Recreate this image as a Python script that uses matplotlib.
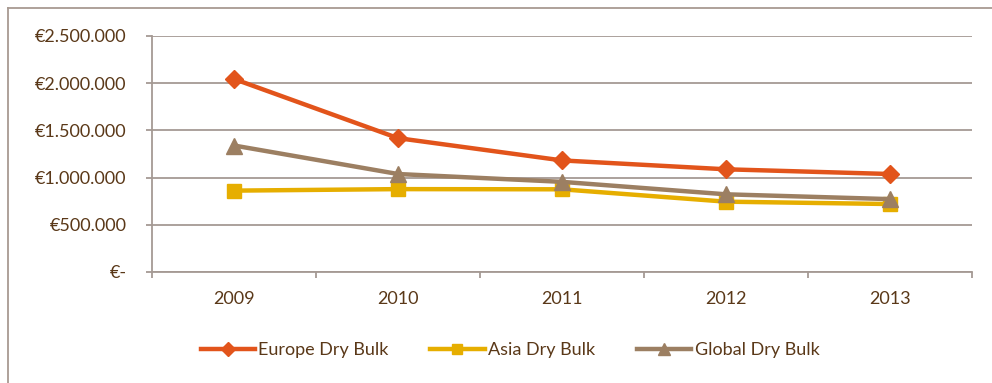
import matplotlib.pyplot as plt
from matplotlib.lines import Line2D
from matplotlib.ticker import FuncFormatter
import numpy as np

# Chart data
years = ['2009', '2010', '2011', '2012', '2013']
europe = [2045000, 1418000, 1182000, 1088000, 1038000]
asia = [862000, 878000, 876000, 745000, 720000]
global_bulk = [1340000, 1038000, 955000, 823000, 772000]

text_color = '#5A3818'
grid_color = '#A59A94'

plt.rcParams['font.family'] = ['Lato', 'DejaVu Sans']

fig = plt.figure(figsize=(9.92, 3.83), dpi=100)
ax = fig.add_axes([152 / 992, 1 - 272 / 383, 820 / 992, 236 / 383])

x = np.arange(len(years))
ax.plot(x, europe, color='#E2541B', lw=3.2, marker='D', ms=9.5, label='Europe Dry Bulk', zorder=4)
ax.plot(x, asia, color='#E6AE00', lw=3.2, marker='s', ms=10, label='Asia Dry Bulk', zorder=3)
ax.plot(x, global_bulk, color='#9C7F62', lw=3.2, marker='^', ms=11, label='Global Dry Bulk', zorder=5)

ax.set_xlim(-0.5, 4.5)
ax.set_ylim(0, 2500000)
ax.set_yticks(np.arange(0, 2500001, 500000))

def euro(v, pos):
    if v == 0:
        return '€-'
    return '€' + f'{int(v):,}'.replace(',', '.')

ax.yaxis.set_major_formatter(FuncFormatter(euro))
ax.set_xticks(np.arange(-0.5, 4.6, 1))
ax.set_xticklabels([])
ax.set_xticks(x, minor=True)
ax.set_xticklabels(years, minor=True)
ax.tick_params(axis='x', which='major', direction='out', length=4.3, width=1.3, color=grid_color)
ax.tick_params(axis='x', which='minor', length=0, pad=14, labelsize=13, labelcolor=text_color)
ax.tick_params(axis='y', direction='out', length=4.3, width=1.3, color=grid_color,
               labelsize=13, labelcolor=text_color, pad=14)

ax.grid(axis='y', color=grid_color, lw=1.3)
ax.set_axisbelow(True)
for side in ['top', 'right']:
    ax.spines[side].set_visible(False)
ax.spines['left'].set_color(grid_color)
ax.spines['bottom'].set_color(grid_color)
ax.spines['left'].set_linewidth(1.3)
ax.spines['bottom'].set_linewidth(1.3)

leg = fig.legend(loc='center', bbox_to_anchor=(510 / 992, 1 - 350 / 383), ncol=3, frameon=False,
                 fontsize=13, handlelength=3.0, handletextpad=0.2, columnspacing=2.3, markerscale=0.75)
for t in leg.get_texts():
    t.set_color(text_color)

# outer chart border
border = '#A89A92'
fig.add_artist(Line2D([8 / 992, 8 / 992], [0, 1 - 8 / 383], color=border, lw=1.3))
fig.add_artist(Line2D([8 / 992, 1], [1 - 8 / 383, 1 - 8 / 383], color=border, lw=1.3))

fig.savefig('out.png', dpi=100)
